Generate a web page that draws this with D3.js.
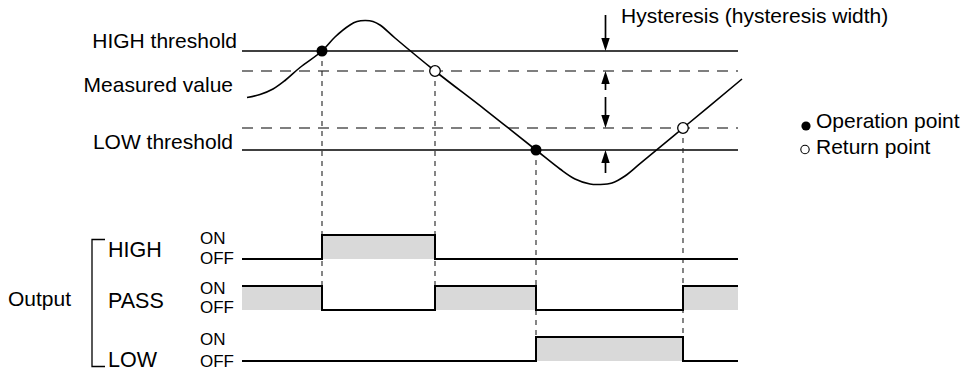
<!DOCTYPE html>
<html><head><meta charset="utf-8">
<script src="https://cdn.jsdelivr.net/npm/d3@7"></script>
<style>
html,body{margin:0;padding:0;background:#fff;}
svg{display:block;}
text{font-family:"Liberation Sans",Arial,Helvetica,sans-serif;fill:#000;}
</style>
</head><body>
<svg id="chart" width="966" height="375"></svg>
<script>
// ---------------- data ----------------
// measured value curve (time units, value units)
const curveTimes  = [5, 18, 31, 43, 58, 80, 93, 108, 115, 123, 131, 138, 153, 193, 243, 294, 318, 333, 348, 358, 370, 383, 398, 441, 500];
const curveValues = [56.75, 58.25, 61, 65.25, 71.75, 80, 87, 93, 94.7, 95.25, 94.8, 93, 86.5, 70, 50.7, 30.5, 21, 16, 13.5, 13.25, 14, 17.5, 23.65, 41.5, 66];

const HIGH_THRESHOLD = 80;
const HIGH_RETURN = 70;
const LOW_RETURN = 41.5;
const LOW_THRESHOLD = 30.5;
const lineEnd = 496;

const operationTimes  = [80, 294];
const operationValues = [80, 30.5];
const returnTimes  = [193, 441];
const returnValues = [70, 41.5];

// hysteresis arrows (value units): from tail to tip
const hystTime = 363.5;
const hystFrom = [98, 60.5, 57, 19];
const hystTo   = [80, 70, 41.5, 30.5];

// outputs
const outputNames = ["HIGH", "PASS", "LOW"];
const edgeTimes  = [0, 80, 193, 294, 441, 496];
const highStates = [0, 1, 0, 0, 0];
const passStates = [1, 0, 1, 0, 1];
const lowStates  = [0, 0, 0, 1, 0];
const outputStates = [highStates, passStates, lowStates];
// vertical guides: time, from value, to output row (ON level)
const guideTimes = [80, 193, 294, 441];
const guideValues = [80, 70, 30.5, 41.5];
const guideRows = ["PASS", "PASS", "LOW", "LOW"];

const leftLabels = ["HIGH threshold", "Measured value", "LOW threshold"];
const legendLabels = ["Operation point", "Return point"];
const hystLabel = "Hysteresis (hysteresis width)";
const outputLabel = "Output";
const stateLabels = ["ON", "OFF"];

// ---------------- drawing ----------------
const svg = d3.select("#chart");
const x = d3.scaleLinear().domain([0, 500]).range([242, 742]);
const y = d3.scaleLinear().domain([0, 100]).range([211, 11]);
const rowOff = d3.scalePoint().domain(outputNames).range([259, 361]);
const LEVEL = 24;
const levelY = (name, s) => rowOff(name) - s * LEVEL;

// threshold lines
[HIGH_THRESHOLD, LOW_THRESHOLD].forEach(v => {
  svg.append("line").attr("x1", x(0)).attr("x2", x(lineEnd))
    .attr("y1", y(v)).attr("y2", y(v))
    .attr("stroke", "#000").attr("stroke-width", 1.4);
});
[HIGH_RETURN, LOW_RETURN].forEach(v => {
  svg.append("line").attr("x1", x(0)).attr("x2", x(lineEnd))
    .attr("y1", y(v)).attr("y2", y(v))
    .attr("stroke", "#000").attr("stroke-width", 1.2)
    .attr("stroke-dasharray", "11,8");
});

// vertical dashed guides
guideTimes.forEach((t, i) => {
  svg.append("line").attr("x1", x(t)).attr("x2", x(t))
    .attr("y1", y(guideValues[i])).attr("y2", levelY(guideRows[i], 1))
    .attr("stroke", "#222").attr("stroke-width", 1.1)
    .attr("stroke-dasharray", "5,5");
});

// measured curve
const curvePts = curveTimes.map((t, i) => [x(t), y(curveValues[i])]);
svg.append("path").attr("d", d3.line().curve(d3.curveCatmullRom.alpha(0.5))(curvePts))
  .attr("fill", "none").attr("stroke", "#000").attr("stroke-width", 1.6);

// operation / return points
operationTimes.forEach((t, i) => {
  svg.append("circle").attr("cx", x(t)).attr("cy", y(operationValues[i])).attr("r", 5.5).attr("fill", "#000");
});
returnTimes.forEach((t, i) => {
  svg.append("circle").attr("cx", x(t)).attr("cy", y(returnValues[i])).attr("r", 5.3)
    .attr("fill", "#fff").attr("stroke", "#000").attr("stroke-width", 1.3);
});

// hysteresis arrows
hystFrom.forEach((v0, i) => {
  const v1 = hystTo[i];
  const xa = x(hystTime);
  const y0 = y(v0), y1 = y(v1);
  const dir = y1 > y0 ? 1 : -1;
  const headLen = 13, hw = 4.2;
  svg.append("line").attr("x1", xa).attr("x2", xa).attr("y1", y0).attr("y2", y1 - dir * headLen + dir)
    .attr("stroke", "#000").attr("stroke-width", 1.7);
  svg.append("path")
    .attr("d", `M${xa},${y1} L${xa - hw},${y1 - dir * headLen} L${xa + hw},${y1 - dir * headLen} Z`)
    .attr("fill", "#000");
});

// output waveforms
outputNames.forEach((name, r) => {
  const states = outputStates[r];
  const pts = edgeTimes.map((t, i) => ({ t, s: states[Math.min(i, states.length - 1)] }));
  svg.append("path")
    .attr("d", d3.area().curve(d3.curveStepAfter)
      .x(d => x(d.t)).y0(rowOff(name)).y1(d => levelY(name, d.s))(pts))
    .attr("fill", "#d9d9d9");
  svg.append("path")
    .attr("d", d3.line().curve(d3.curveStepAfter)
      .x(d => x(d.t)).y(d => levelY(name, d.s))(pts))
    .attr("fill", "none").attr("stroke", "#000").attr("stroke-width", 2);
});

// left labels
const leftX = [237, 233, 233];
const leftY = [47.5, 91.5, 148.5];
leftLabels.forEach((s, i) => {
  svg.append("text").attr("x", leftX[i]).attr("y", leftY[i]).attr("text-anchor", "end")
    .attr("font-size", 21).text(s);
});

// hysteresis label
svg.append("text").attr("x", 621).attr("y", 23).attr("font-size", 21).text(hystLabel);

// legend
svg.append("circle").attr("cx", 806).attr("cy", 126).attr("r", 4.6).attr("fill", "#000");
svg.append("circle").attr("cx", 805).attr("cy", 149.5).attr("r", 4.2).attr("fill", "#fff")
  .attr("stroke", "#000").attr("stroke-width", 1.1);
svg.append("text").attr("x", 816).attr("y", 128).attr("font-size", 21).text(legendLabels[0]);
svg.append("text").attr("x", 816).attr("y", 153.5).attr("font-size", 21).text(legendLabels[1]);

// output labels
svg.append("text").attr("x", 8).attr("y", 306).attr("font-size", 21).text(outputLabel);
const rowLabelY = [256.5, 308, 366.5];
outputNames.forEach((name, i) => {
  svg.append("text").attr("x", 108).attr("y", rowLabelY[i]).attr("font-size", 21.5).text(name);
});
const onY = [244, 294, 345];
const offY = [264, 312.5, 366.5];
outputNames.forEach((name, i) => {
  svg.append("text").attr("x", 200).attr("y", onY[i]).attr("font-size", 17).text(stateLabels[0]);
  svg.append("text").attr("x", 200).attr("y", offY[i]).attr("font-size", 17).text(stateLabels[1]);
});

// bracket
svg.append("path").attr("d", "M105,239.5 H92 V366.5 H105")
  .attr("fill", "none").attr("stroke", "#000").attr("stroke-width", 1.3);
</script>
</body></html>
